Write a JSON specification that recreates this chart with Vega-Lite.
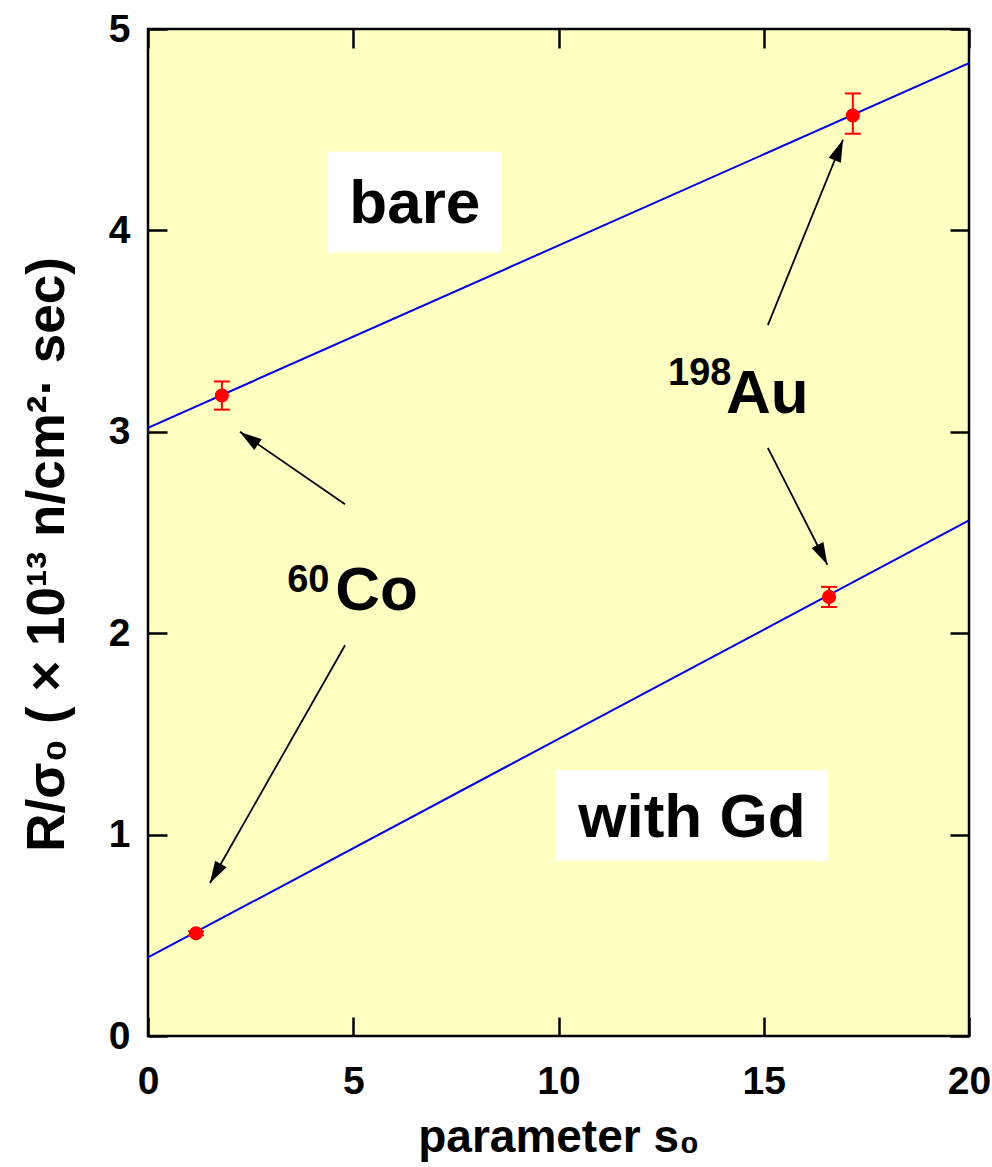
{
  "$schema": "https://vega.github.io/schema/vega-lite/v6.json",
  "width": 821,
  "height": 1007,
  "autosize": {"type": "none"},
  "padding": {"left": 148, "top": 29, "right": 23, "bottom": 131},
  "background": "white",
  "config": {
    "font": "Liberation Sans",
    "view": {"fill": "#FFFFC2", "stroke": "black", "strokeWidth": 2.5},
    "axis": {
      "domain": false,
      "grid": false,
      "labelFlush": false,
      "tickColor": "black",
      "tickWidth": 2.5,
      "tickSize": -19,
      "labelFont": "Liberation Sans",
      "labelFontWeight": "bold",
      "labelFontSize": 39,
      "labelColor": "black",
      "titleFont": "Liberation Sans",
      "titleFontWeight": "bold",
      "titleFontSize": 46,
      "titleColor": "black"
    }
  },
  "datasets": {
    "points": [
      {"series": "bare", "nuclide": "Co", "x": 1.80, "y": 3.18, "lo": 3.11, "hi": 3.25},
      {"series": "bare", "nuclide": "Au", "x": 17.17, "y": 4.57, "lo": 4.48, "hi": 4.68},
      {"series": "with Gd", "nuclide": "Co", "x": 1.17, "y": 0.51, "lo": 0.50, "hi": 0.52},
      {"series": "with Gd", "nuclide": "Au", "x": 16.59, "y": 2.18, "lo": 2.13, "hi": 2.23}
    ],
    "fit": [
      {"series": "bare", "x": 0, "y": 3.02},
      {"series": "bare", "x": 20, "y": 4.83},
      {"series": "with Gd", "x": 0, "y": 0.39},
      {"series": "with Gd", "x": 20, "y": 2.56}
    ],
    "arrows": [
      {"id": "a1", "x": 4.80, "y": 2.64, "x2": 2.24, "y2": 3.00, "hx": 2.46, "hy": 2.968},
      {"id": "a2", "x": 4.80, "y": 1.94, "x2": 1.51, "y2": 0.76, "hx": 1.642, "hy": 0.807},
      {"id": "a3", "x": 15.10, "y": 3.53, "x2": 16.93, "y2": 4.45, "hx": 16.83, "hy": 4.399},
      {"id": "a4", "x": 15.10, "y": 2.92, "x2": 16.55, "y2": 2.34, "hx": 16.43, "hy": 2.389}
    ],
    "boxes": [
      {"label": "bare", "x": 4.38, "x2": 8.62, "y": 3.89, "y2": 4.39, "cx": 6.50, "cy": 4.13},
      {"label": "with Gd", "x": 9.94, "x2": 16.57, "y": 0.87, "y2": 1.32, "cx": 13.25, "cy": 1.08}
    ],
    "nuclides": [
      {"mass": "60", "symbol": "Co", "mx": 3.39, "my": 2.205, "sx": 4.56, "sy": 2.115},
      {"mass": "198", "symbol": "Au", "mx": 12.67, "my": 3.232, "sx": 14.08, "sy": 3.093}
    ]
  },
  "resolve": {"axis": {"x": "independent", "y": "independent"}},
  "layer": [
    {
      "data": {"name": "boxes"},
      "mark": {"type": "rect", "fill": "white"},
      "encoding": {
        "x": {"field": "x", "type": "quantitative", "scale": {"domain": [0, 20], "nice": false}, "axis": null},
        "x2": {"field": "x2"},
        "y": {"field": "y", "type": "quantitative", "scale": {"domain": [0, 5], "nice": false}, "axis": null},
        "y2": {"field": "y2"}
      }
    },
    {
      "data": {"name": "fit"},
      "mark": {"type": "line", "color": "#0000E0", "strokeWidth": 2, "clip": true},
      "encoding": {
        "x": {"field": "x", "type": "quantitative", "scale": {"domain": [0, 20], "nice": false},
              "axis": {"orient": "bottom", "values": [0, 5, 10, 15, 20], "title": "parameter s₀", "labelPadding": 45, "titlePadding": 14}},
        "y": {"field": "y", "type": "quantitative", "scale": {"domain": [0, 5], "nice": false},
              "axis": {"orient": "left", "values": [0, 1, 2, 3, 4, 5], "title": "R/σ₀  ( × 10¹³ n/cm²· sec)", "titleFontSize": 53, "titleY": 525, "labelPadding": 37, "titlePadding": 34}},
        "detail": {"field": "series"}
      }
    },
    {
      "data": {"name": "fit"},
      "mark": {"type": "point", "opacity": 0},
      "encoding": {
        "x": {"field": "x", "type": "quantitative", "scale": {"domain": [0, 20], "nice": false},
              "axis": {"orient": "top", "values": [0, 5, 10, 15, 20], "labels": false, "title": null}},
        "y": {"field": "y", "type": "quantitative", "scale": {"domain": [0, 5], "nice": false},
              "axis": {"orient": "right", "values": [0, 1, 2, 3, 4, 5], "labels": false, "title": null}}
      }
    },
    {
      "data": {"name": "arrows"},
      "mark": {"type": "rule", "color": "black", "strokeWidth": 1.8},
      "encoding": {
        "x": {"field": "x", "type": "quantitative", "axis": null},
        "y": {"field": "y", "type": "quantitative", "axis": null},
        "x2": {"field": "x2"},
        "y2": {"field": "y2"}
      }
    },
    {
      "data": {"name": "arrows"},
      "transform": [{"filter": {"field": "id", "equal": "a1"}}],
      "mark": {"type": "point", "shape": "M0,-1L0.6,1L-0.6,1Z", "filled": true, "color": "black", "size": 484, "opacity": 1, "angle": 305},
      "encoding": {"x": {"field": "hx", "type": "quantitative", "axis": null}, "y": {"field": "hy", "type": "quantitative", "axis": null}}
    },
    {
      "data": {"name": "arrows"},
      "transform": [{"filter": {"field": "id", "equal": "a2"}}],
      "mark": {"type": "point", "shape": "M0,-1L0.6,1L-0.6,1Z", "filled": true, "color": "black", "size": 484, "opacity": 1, "angle": 209.6},
      "encoding": {"x": {"field": "hx", "type": "quantitative", "axis": null}, "y": {"field": "hy", "type": "quantitative", "axis": null}}
    },
    {
      "data": {"name": "arrows"},
      "transform": [{"filter": {"field": "id", "equal": "a3"}}],
      "mark": {"type": "point", "shape": "M0,-1L0.6,1L-0.6,1Z", "filled": true, "color": "black", "size": 484, "opacity": 1, "angle": 22.1},
      "encoding": {"x": {"field": "hx", "type": "quantitative", "axis": null}, "y": {"field": "hy", "type": "quantitative", "axis": null}}
    },
    {
      "data": {"name": "arrows"},
      "transform": [{"filter": {"field": "id", "equal": "a4"}}],
      "mark": {"type": "point", "shape": "M0,-1L0.6,1L-0.6,1Z", "filled": true, "color": "black", "size": 484, "opacity": 1, "angle": 153.4},
      "encoding": {"x": {"field": "hx", "type": "quantitative", "axis": null}, "y": {"field": "hy", "type": "quantitative", "axis": null}}
    },
    {
      "data": {"name": "points"},
      "mark": {"type": "rule", "color": "#FF0000", "strokeWidth": 2},
      "encoding": {
        "x": {"field": "x", "type": "quantitative", "axis": null},
        "y": {"field": "lo", "type": "quantitative", "axis": null},
        "y2": {"field": "hi"}
      }
    },
    {
      "data": {"name": "points"},
      "mark": {"type": "tick", "orient": "horizontal", "color": "#FF0000", "size": 16, "thickness": 2, "opacity": 1},
      "encoding": {
        "x": {"field": "x", "type": "quantitative", "axis": null},
        "y": {"field": "lo", "type": "quantitative", "axis": null}
      }
    },
    {
      "data": {"name": "points"},
      "mark": {"type": "tick", "orient": "horizontal", "color": "#FF0000", "size": 16, "thickness": 2, "opacity": 1},
      "encoding": {
        "x": {"field": "x", "type": "quantitative", "axis": null},
        "y": {"field": "hi", "type": "quantitative", "axis": null}
      }
    },
    {
      "data": {"name": "points"},
      "mark": {"type": "point", "shape": "circle", "filled": true, "color": "#FF0000", "size": 200, "opacity": 1},
      "encoding": {
        "x": {"field": "x", "type": "quantitative", "axis": null},
        "y": {"field": "y", "type": "quantitative", "axis": null}
      }
    },
    {
      "data": {"name": "boxes"},
      "mark": {"type": "text", "font": "Liberation Sans", "fontWeight": "bold", "fontSize": 62, "color": "black", "align": "center", "baseline": "middle"},
      "encoding": {
        "x": {"field": "cx", "type": "quantitative", "axis": null},
        "y": {"field": "cy", "type": "quantitative", "axis": null},
        "text": {"field": "label"}
      }
    },
    {
      "data": {"name": "nuclides"},
      "mark": {"type": "text", "font": "Liberation Sans", "fontWeight": "bold", "fontSize": 62, "color": "black", "align": "left", "baseline": "alphabetic"},
      "encoding": {
        "x": {"field": "sx", "type": "quantitative", "axis": null},
        "y": {"field": "sy", "type": "quantitative", "axis": null},
        "text": {"field": "symbol"}
      }
    },
    {
      "data": {"name": "nuclides"},
      "mark": {"type": "text", "font": "Liberation Sans", "fontWeight": "bold", "fontSize": 38, "color": "black", "align": "left", "baseline": "alphabetic"},
      "encoding": {
        "x": {"field": "mx", "type": "quantitative", "axis": null},
        "y": {"field": "my", "type": "quantitative", "axis": null},
        "text": {"field": "mass"}
      }
    }
  ]
}
